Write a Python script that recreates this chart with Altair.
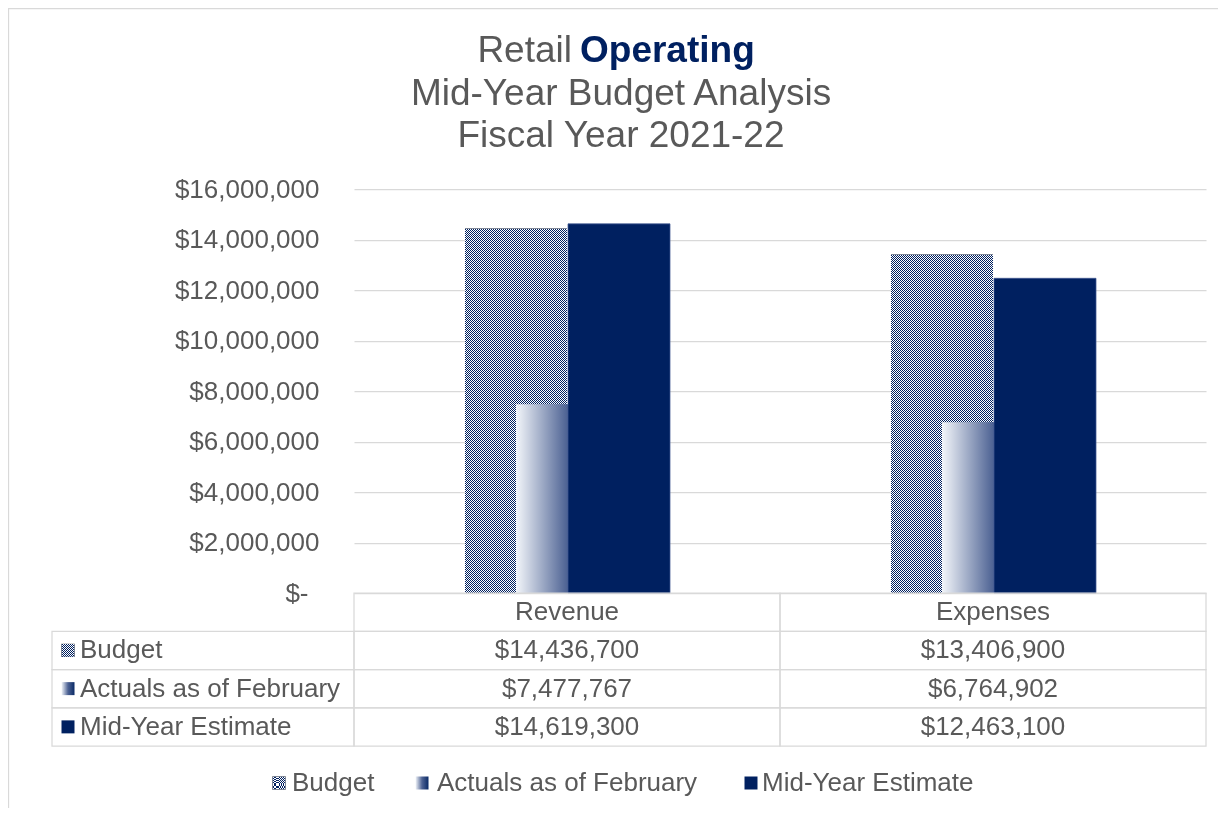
import math
import altair as alt
import pandas as pd

# ---------------- data ----------------
categories = ["Revenue", "Expenses"]
series = ["Budget", "Actuals as of February", "Mid-Year Estimate"]
budget = [14436700, 13406900]
actuals = [7477767, 6764902]
mid_year = [14619300, 12463100]
y_ticks = [0, 2000000, 4000000, 6000000, 8000000, 10000000, 12000000, 14000000, 16000000]
title_first = ["Retail", "Operating"]
title_rest = ["Mid-Year Budget Analysis", "Fiscal Year 2021-22"]

# ---------------- style ----------------
NAVY = "#002060"
GRID = "#d9d9d9"
TXT = "#595959"
FONT = "Liberation Sans"
FS = 26
TITLE_FS = 37
PLOT_W, PLOT_H = 852, 404
Y_MAX = 16000000
BAR_W = 102
SEG_PX = 16  # pattern is painted in short pieces so the stripes stay crisp

rows = []
for s, vals in zip(series, [budget, actuals, mid_year]):
    for c, v in zip(categories, vals):
        rows.append({"category": c, "series": s, "value": v})
df = pd.DataFrame(rows)

header_key = "header"
row_domain = [header_key] + series
cells = pd.DataFrame([{"row": r, "category": c} for r in row_domain for c in categories])
header_df = pd.DataFrame({"row": [header_key] * len(categories), "category": categories})
values_df = df.rename(columns={"series": "row"})
series_df = pd.DataFrame({"row": series})


def stripes(periods, c1, c2, horizontal=False):
    """Hard-stop stripes; `periods` may be fractional (stops clipped at 1)."""
    stops = []
    for i in range(int(math.ceil(periods))):
        for a, b, col in ((i, i + 0.5, c1), (i + 0.5, i + 1, c2)):
            oa, ob = a / periods, b / periods
            if oa >= 1:
                continue
            stops.append(alt.GradientStop(color=col, offset=oa))
            stops.append(alt.GradientStop(color=col, offset=min(ob, 1)))
    if horizontal:
        return alt.LinearGradient(gradient="linear", stops=stops, x1=0, x2=0, y1=1, y2=0)
    return alt.LinearGradient(gradient="linear", stops=stops, x1=0, x2=1, y1=0, y2=0)


CLEAR = "rgba(255,255,255,0)"
actual_fill = alt.LinearGradient(
    gradient="linear",
    stops=[
        alt.GradientStop(color="#f3f6fa", offset=0),
        alt.GradientStop(color="#4e6394", offset=0.5),
        alt.GradientStop(color="#0a2a66", offset=1),
    ],
    x1=0, x2=1, y1=0, y2=0,
)

xenc = alt.X(
    "category:N",
    sort=categories,
    scale=alt.Scale(domain=categories, paddingInner=0, paddingOuter=0),
    axis=None,
)
yscale = alt.Scale(domain=[0, Y_MAX], nice=False, zero=True)
yaxis = alt.Axis(
    values=y_ticks,
    labelExpr="datum.value == 0 ? '$-' : '$' + format(datum.value, ',')",
    grid=True,
    gridColor=GRID,
    gridWidth=1.25,
    domain=False,
    ticks=False,
    tickSize=0,
    labelPadding={"condition": {"test": "datum.value == 0", "value": 46}, "value": 35},
    labelFontSize=FS,
    labelColor=TXT,
    labelFont=FONT,
    title=None,
)

base = alt.Chart(df)
OFF_B, OFF_A, OFF_M = -51, 0, 52

# Budget: checkerboard = black/white vertical stripes XOR horizontal stripes
# (difference blend), then tinted navy with a screen blend.
budget_layers = [
    base.transform_filter(alt.datum.series == "Budget").mark_bar(
        width=BAR_W, xOffset=OFF_B, fill=stripes(BAR_W / 2, "#000000", "#ffffff")
    ).encode(x=xenc, y=alt.Y("value:Q", scale=yscale, axis=yaxis))
]
seg_val = SEG_PX * Y_MAX / PLOT_H
seg_rows, top_rows = [], []
for c, v in zip(categories, budget):
    n = int(v // seg_val)
    for k in range(n):
        seg_rows.append({"category": c, "y0": k * seg_val, "y1": (k + 1) * seg_val})
    top_rows.append({"category": c, "y0": n * seg_val, "y1": v})

budget_layers.append(
    alt.Chart(pd.DataFrame(seg_rows)).mark_bar(
        width=BAR_W, xOffset=OFF_B, fill=stripes(SEG_PX / 2, "#ffffff", CLEAR, horizontal=True),
        blend="difference",
    ).encode(x=xenc, y=alt.Y("y0:Q", scale=yscale, axis=None), y2="y1:Q")
)
for r in top_rows:
    h = (r["y1"] - r["y0"]) / Y_MAX * PLOT_H
    budget_layers.append(
        alt.Chart(pd.DataFrame([r])).mark_bar(
            width=BAR_W, xOffset=OFF_B, fill=stripes(h / 2, "#ffffff", CLEAR, horizontal=True),
            blend="difference",
        ).encode(x=xenc, y=alt.Y("y0:Q", scale=yscale, axis=None), y2="y1:Q")
    )
budget_layers.append(
    base.transform_filter(alt.datum.series == "Budget").mark_bar(
        width=BAR_W, xOffset=OFF_B, fill=NAVY, blend="screen"
    ).encode(x=xenc, y=alt.Y("value:Q", scale=yscale, axis=None))
)

bar_actual = base.transform_filter(alt.datum.series == "Actuals as of February").mark_bar(
    width=BAR_W, xOffset=OFF_A, fill=actual_fill
).encode(x=xenc, y=alt.Y("value:Q", scale=yscale, axis=None))
bar_mid = base.transform_filter(alt.datum.series == "Mid-Year Estimate").mark_bar(
    width=BAR_W, xOffset=OFF_M, fill=NAVY, stroke="#3f5590", strokeWidth=0.75
).encode(x=xenc, y=alt.Y("value:Q", scale=yscale, axis=None))

# ---------------- data table ----------------
table_y = alt.Y(
    "row:N",
    sort=row_domain,
    scale=alt.Scale(domain=row_domain, range=[404, 557], paddingInner=0, paddingOuter=0),
    axis=None,
)
cell_rects = alt.Chart(cells).mark_rect(
    fill="#ffffff", fillOpacity=0, stroke=GRID, strokeWidth=1.25
).encode(x=xenc, y=table_y)
name_rects = alt.Chart(series_df).mark_rect(
    fill="#ffffff", fillOpacity=0, stroke=GRID, strokeWidth=1.25
).encode(x=alt.value(-302), x2=alt.value(0), y=table_y)
header_text = alt.Chart(header_df).mark_text(
    fontSize=FS, color=TXT, font=FONT, baseline="middle"
).encode(x=xenc, y=table_y, text="category:N")
value_text = alt.Chart(values_df).mark_text(
    fontSize=FS, color=TXT, font=FONT, baseline="middle"
).encode(x=xenc, y=table_y, text=alt.Text("value:Q", format="$,.0f"))
name_text = alt.Chart(series_df).mark_text(
    fontSize=FS, color=TXT, font=FONT, baseline="middle", align="left"
).encode(x=alt.value(-274), y=table_y, text="row:N")

KEY = 13
def checker_key(chart, x, y):
    """Small checkerboard key square (same stripe/blend construction as the bars)."""
    size = KEY * KEY
    return [
        chart.mark_square(size=size, fill=stripes(KEY / 2, "#000000", "#ffffff"), opacity=1).encode(x=x, y=y),
        chart.mark_square(size=size, fill=stripes(KEY / 2, "#ffffff", CLEAR, horizontal=True),
                          opacity=1, blend="difference").encode(x=x, y=y),
        chart.mark_square(size=size, fill=NAVY, opacity=1, blend="screen").encode(x=x, y=y),
    ]

table_keys = checker_key(
    alt.Chart(series_df).transform_filter(alt.datum.row == "Budget"), alt.value(-286), table_y
)
table_keys += [
    alt.Chart(series_df).transform_filter(alt.datum.row == s).mark_square(
        size=KEY * KEY, fill=f, opacity=1
    ).encode(x=alt.value(-286), y=table_y)
    for s, f in zip(series[1:], [actual_fill, NAVY])
]

# ---------------- bottom legend ----------------
one = alt.Data(values=[{}])
legend_key_x = [-75, 68, 397]
legend_text_x = [-62, 83, 408]
legend_y = 594
legend_layers = checker_key(alt.Chart(one), alt.value(legend_key_x[0]), alt.value(legend_y))
for f, kx in zip([actual_fill, NAVY], legend_key_x[1:]):
    legend_layers.append(
        alt.Chart(one).mark_square(size=KEY * KEY, fill=f, opacity=1).encode(
            x=alt.value(kx), y=alt.value(legend_y)
        )
    )
for s, tx in zip(series, legend_text_x):
    legend_layers.append(
        alt.Chart(one).mark_text(
            text=s, fontSize=FS, color=TXT, font=FONT, align="left", baseline="middle"
        ).encode(x=alt.value(tx), y=alt.value(legend_y))
    )

# ---------------- title ----------------
title_layers = [
    alt.Chart(one).mark_text(
        text=title_first[0], fontSize=TITLE_FS, color=TXT, font=FONT,
        align="right", baseline="alphabetic"
    ).encode(x=alt.value(218), y=alt.value(-127)),
    alt.Chart(one).mark_text(
        text=title_first[1], fontSize=TITLE_FS, color=NAVY, font=FONT, fontWeight="bold",
        align="left", baseline="alphabetic"
    ).encode(x=alt.value(226), y=alt.value(-127)),
]
for i, t in enumerate(title_rest):
    title_layers.append(
        alt.Chart(one).mark_text(
            text=t, fontSize=TITLE_FS, color=TXT, font=FONT,
            align="center", baseline="alphabetic"
        ).encode(x=alt.value(267), y=alt.value(-84 + 42 * i))
    )

# ---------------- outer border ----------------
border = alt.Chart(one).mark_rect(
    fill="#ffffff", fillOpacity=0, stroke=GRID, strokeWidth=1.25
).encode(
    x=alt.value(-345.5), x2=alt.value(880), y=alt.value(-180.5), y2=alt.value(640)
)

chart = alt.layer(
    border,
    *budget_layers, bar_actual, bar_mid,
    cell_rects, name_rects, header_text, value_text, name_text,
    *table_keys,
    *legend_layers,
    *title_layers,
).resolve_scale(y="independent").properties(
    width=PLOT_W,
    height=PLOT_H,
    autosize=alt.AutoSizeParams(type="none"),
    padding={"left": 346, "top": 181, "right": 12, "bottom": 215},
    background="#ffffff",
).configure_view(strokeWidth=0)

chart.save("out.html", embed_options={"renderer": "svg", "actions": False})
